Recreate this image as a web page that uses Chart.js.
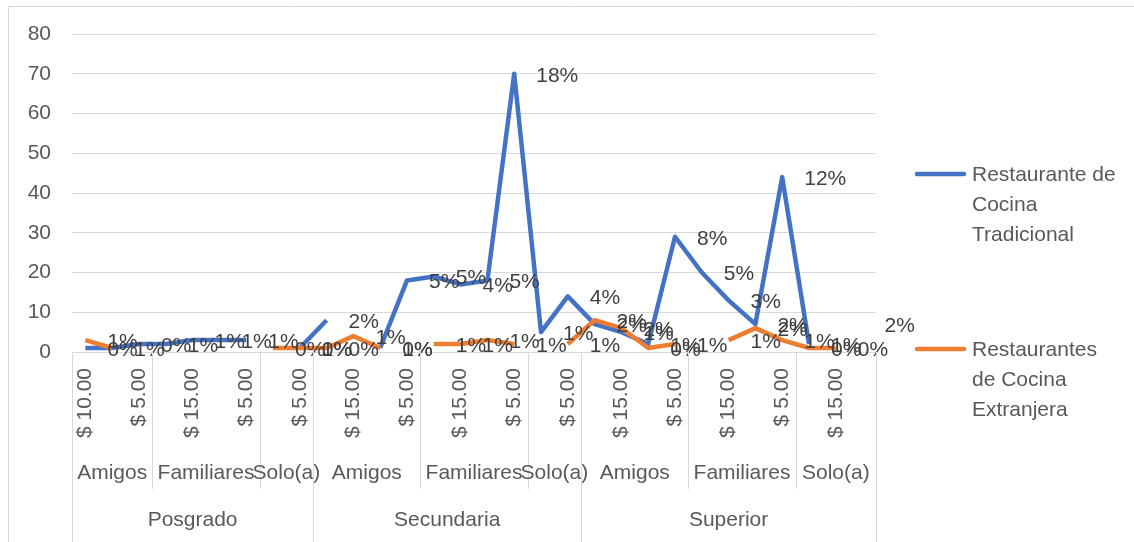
<!DOCTYPE html>
<html lang="es">
<head>
<meta charset="UTF-8">
<title>Restaurantes por nivel de estudios</title>
<script src="https://cdn.jsdelivr.net/npm/chart.js"></script>
<style>
  html, body { margin: 0; padding: 0; background: #fff; }
  #wrap { position: relative; width: 1134px; height: 542px; }
</style>
</head>
<body>
<div id="wrap"><canvas id="chart" width="1134" height="542"></canvas></div>
<script>
// leaf categories (only every other one is shown on the axis, like the original)
const priceLabels = [
  '$ 10.00', '$ 15.00', '$ 5.00',
  '$ 10.00', '$ 15.00', '$ 20.00', '$ 5.00',
  '$ 15.00', '$ 5.00',
  '$ 10.00', '$ 15.00', '$ 20.00', '$ 5.00',
  '$ 10.00', '$ 15.00', '$ 20.00', '$ 5.00',
  '$ 15.00', '$ 5.00',
  '$ 10.00', '$ 15.00', '$ 20.00', '$ 5.00',
  '$ 10.00', '$ 15.00', '$ 20.00', '$ 5.00',
  '$ 10.00', '$ 15.00', '$ 5.00'
];
const subGroupLabels = ['Amigos', 'Familiares', 'Solo(a)', 'Amigos', 'Familiares', 'Solo(a)', 'Amigos', 'Familiares', 'Solo(a)'];
const subGroupSizes = [3, 4, 2, 4, 4, 2, 4, 4, 3];
const levelLabels = ['Posgrado', 'Secundaria', 'Superior'];
const levelSizes = [9, 10, 11];

const tradicional = [1, 1, 2, 2, 3, 3, 3, null, 1, 8, null, 1, 18, 19, 17, 18, 70, 5, 14, 7, 5, 2, 29, 20, 13, 7, 44, 2, null, 7];
const tradicionalPct = ['0%', '1%', '0%', '1%', '1%', '1%', '1%', '', '1%', '2%', '', '1%', '5%', '5%', '4%', '5%', '18%', '1%', '4%', '2%', '1%', '1%', '8%', '5%', '3%', '2%', '12%', '1%', '', '2%'];
const extranjera = [3, 1, null, null, null, null, null, 1, 1, 1, 4, 1, null, 2, 2, 3, 2, null, 2, 8, 6, 1, 2, null, 3, 6, 3, 1, 1, null];
const extranjeraPct = ['1%', '', '', '', '', '', '', '0%', '0%', '0%', '1%', '0%', '', '1%', '1%', '1%', '1%', '', '1%', '2%', '2%', '0%', '1%', '', '1%', '2%', '1%', '0%', '0%', ''];

const seriesNames = [['Restaurante de', 'Cocina', 'Tradicional'], ['Restaurantes', 'de Cocina', 'Extranjera']];
const seriesColors = ['#4472C4', '#ED7D31'];
const seriesPct = [tradicionalPct, extranjeraPct];

const FONT = '"Liberation Sans", Arial, sans-serif';
const GRID = '#d9d9d9';
const TEXT = '#595959';

// percentage labels to the right of each point
const pointLabels = {
  id: 'pointLabels',
  afterDatasetsDraw(chart) {
    const ctx = chart.ctx;
    ctx.save();
    ctx.font = '21px ' + FONT;
    ctx.fillStyle = '#404040';
    ctx.textAlign = 'left';
    ctx.textBaseline = 'middle';
    chart.data.datasets.forEach((ds, d) => {
      chart.getDatasetMeta(d).data.forEach((pt, i) => {
        const txt = seriesPct[d][i];
        if (ds.data[i] == null || !txt) return;
        ctx.fillText(txt, pt.x + 22, pt.y + 2);
      });
    });
    ctx.restore();
  }
};

// multi-level category axis, legend and outer frame
const decorations = {
  id: 'decorations',
  afterDraw(chart) {
    const ctx = chart.ctx;
    const x = chart.scales.x;
    const area = chart.chartArea;
    const step = x.getPixelForValue(1) - x.getPixelForValue(0);
    const edge = i => x.getPixelForValue(i) - step / 2;
    const vline = (px, y1, y2) => {
      ctx.beginPath();
      ctx.moveTo(Math.round(px) + 0.5, y1);
      ctx.lineTo(Math.round(px) + 0.5, y2);
      ctx.stroke();
    };
    ctx.save();
    ctx.strokeStyle = GRID;
    ctx.lineWidth = 1;
    ctx.fillStyle = TEXT;
    ctx.font = '21px ' + FONT;

    // outer frame
    ctx.beginPath();
    ctx.moveTo(8.5, 542);
    ctx.lineTo(8.5, 6.5);
    ctx.lineTo(1134, 6.5);
    ctx.stroke();

    // leaf labels
    priceLabels.forEach((t, i) => {
      if (i % 2) return;
      ctx.save();
      ctx.translate(x.getPixelForValue(i), area.bottom + 16);
      ctx.rotate(-Math.PI / 2);
      ctx.textAlign = 'right';
      ctx.textBaseline = 'middle';
      ctx.fillText(t, 0, 0);
      ctx.restore();
    });

    // second level
    ctx.textAlign = 'center';
    ctx.textBaseline = 'middle';
    let start = 0;
    subGroupSizes.forEach((n, k) => {
      const a = edge(start), b = edge(start + n);
      vline(a, area.bottom, area.bottom + 137);
      ctx.fillText(subGroupLabels[k], (a + b) / 2, area.bottom + 121);
      start += n;
    });

    // top level
    start = 0;
    levelSizes.forEach((n, k) => {
      const a = edge(start), b = edge(start + n);
      vline(a, area.bottom, 542);
      ctx.fillText(levelLabels[k], (a + b) / 2, area.bottom + 168);
      start += n;
    });
    vline(edge(start), area.bottom, 542);

    // legend
    const legendY = [174, 349];
    seriesNames.forEach((lines, s) => {
      ctx.strokeStyle = seriesColors[s];
      ctx.lineWidth = 4.5;
      ctx.lineCap = 'round';
      ctx.beginPath();
      ctx.moveTo(917, legendY[s]);
      ctx.lineTo(964, legendY[s]);
      ctx.stroke();
      ctx.textAlign = 'left';
      lines.forEach((ln, j) => ctx.fillText(ln, 972, legendY[s] + 1 + j * 30));
    });
    ctx.restore();
  }
};

new Chart(document.getElementById('chart'), {
  type: 'line',
  data: {
    labels: priceLabels,
    datasets: [
      { label: seriesNames[0].join(' '), data: tradicional, borderColor: seriesColors[0], order: 1 },
      { label: seriesNames[1].join(' '), data: extranjera, borderColor: seriesColors[1], order: 0 }
    ]
  },
  options: {
    responsive: false,
    animation: false,
    devicePixelRatio: 1,
    spanGaps: false,
    layout: { padding: { left: 10, right: 258, top: 34, bottom: 190 } },
    elements: {
      line: { borderWidth: 4.5, tension: 0, borderCapStyle: 'butt', borderJoinStyle: 'round', fill: false },
      point: { radius: 0, hoverRadius: 0 }
    },
    plugins: { legend: { display: false }, tooltip: { enabled: false } },
    scales: {
      x: { type: 'category', display: false, offset: true },
      y: {
        min: 0, max: 80,
        afterFit(scale) { scale.width = 62; },
        border: { display: false },
        grid: { color: GRID, lineWidth: 1, drawTicks: false },
        ticks: { stepSize: 10, padding: 21, color: TEXT, font: { family: FONT, size: 21 } }
      }
    }
  },
  plugins: [pointLabels, decorations]
});
</script>
</body>
</html>
